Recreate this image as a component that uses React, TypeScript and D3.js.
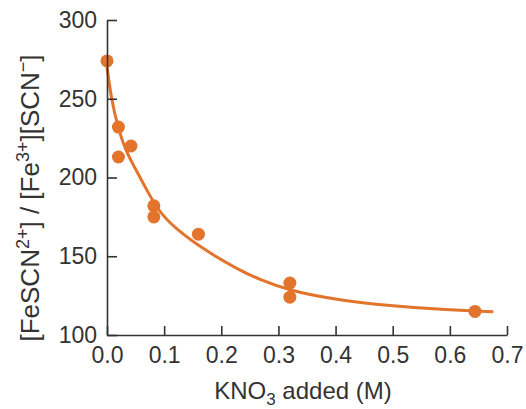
import React, { useEffect, useRef } from "react";
import * as d3 from "d3";

// measured points
const kno3 = [0.0, 0.02, 0.02, 0.042, 0.082, 0.082, 0.16, 0.32, 0.32, 0.644];
const ratio = [274, 232, 213, 220, 182, 175, 164, 133, 124, 115];

// fitted curve
const fitX = [0, 0.008, 0.019, 0.032, 0.049, 0.058, 0.087, 0.116, 0.174, 0.233, 0.262, 0.32, 0.4, 0.478, 0.6, 0.676];
const fitY = [270, 249, 232, 217.5, 206, 200, 180, 168.5, 153, 141, 136, 128, 122.5, 119, 115.8, 114.8];

const xTicks = [0, 0.1, 0.2, 0.3, 0.4, 0.5, 0.6, 0.7];
const yTicks = [100, 150, 200, 250, 300];

const App = () => {
  const ref = useRef<SVGSVGElement | null>(null);

  useEffect(() => {
    const width = 526;
    const height = 409;
    const orange = "#e2742c";
    const ink = "#333333";
    const font = "'Liberation Sans', Arial, sans-serif";

    const svg = d3.select(ref.current);
    svg.selectAll("*").remove();
    svg.attr("width", width).attr("height", height);

    const x = d3.scaleLinear().domain([0, 0.7]).range([107, 507]);
    const y = d3.scaleLinear().domain([100, 300]).range([335, 20]);

    // curve
    const line = d3
      .line<number>()
      .x((d, i) => x(fitX[i]))
      .y((d) => y(d))
      .curve(d3.curveBasis);

    svg
      .append("path")
      .datum(fitY)
      .attr("d", line)
      .attr("fill", "none")
      .attr("stroke", orange)
      .attr("stroke-width", 3);

    // points
    svg
      .selectAll(".dot")
      .data(kno3)
      .enter()
      .append("circle")
      .attr("class", "dot")
      .attr("cx", (d) => x(d))
      .attr("cy", (d, i) => y(ratio[i]))
      .attr("r", 6.5)
      .attr("fill", orange);

    // axes
    const yAxis = svg
      .append("g")
      .attr("transform", `translate(${x(0)},0)`)
      .call(
        d3.axisLeft(y).tickValues(yTicks).tickSizeInner(-10).tickSizeOuter(0).tickPadding(10)
      );

    const xAxis = svg
      .append("g")
      .attr("transform", `translate(0,${y(100)})`)
      .call(
        d3
          .axisBottom(x)
          .tickValues(xTicks)
          .tickFormat(d3.format(".1f"))
          .tickSizeInner(-9)
          .tickSizeOuter(0)
          .tickPadding(12)
      );

    [yAxis, xAxis].forEach((g) => {
      g.selectAll("path, line").attr("stroke", ink).attr("stroke-width", 1.6);
      g.selectAll("text")
        .attr("fill", ink)
        .style("font-family", font)
        .style("font-size", "23px");
    });

    // x title
    const xt = svg
      .append("text")
      .attr("x", 303)
      .attr("y", 399)
      .attr("text-anchor", "middle")
      .attr("fill", ink)
      .style("font-family", font)
      .style("font-size", "24px");
    xt.append("tspan").text("KNO");
    xt.append("tspan").attr("dy", 6).style("font-size", "17px").text("3");
    xt.append("tspan").attr("dy", -6).text(" added (M)");

    // y title
    const yt = svg
      .append("text")
      .attr("transform", "translate(39,198) rotate(-90)")
      .attr("text-anchor", "middle")
      .attr("fill", ink)
      .style("font-family", font)
      .style("font-size", "26px");
    yt.append("tspan").text("[FeSCN");
    yt.append("tspan").attr("dy", -10).style("font-size", "18px").text("2+");
    yt.append("tspan").attr("dy", 10).text("] / [Fe");
    yt.append("tspan").attr("dy", -10).style("font-size", "18px").text("3+");
    yt.append("tspan").attr("dy", 10).text("][SCN");
    yt.append("tspan").attr("dy", -10).style("font-size", "18px").text("\u2212");
    yt.append("tspan").attr("dy", 10).text("]");
  }, []);

  return (
    <svg
      ref={ref}
      style={{ position: "absolute", left: 0, top: 0, background: "#fff" }}
    />
  );
};

export default App;
